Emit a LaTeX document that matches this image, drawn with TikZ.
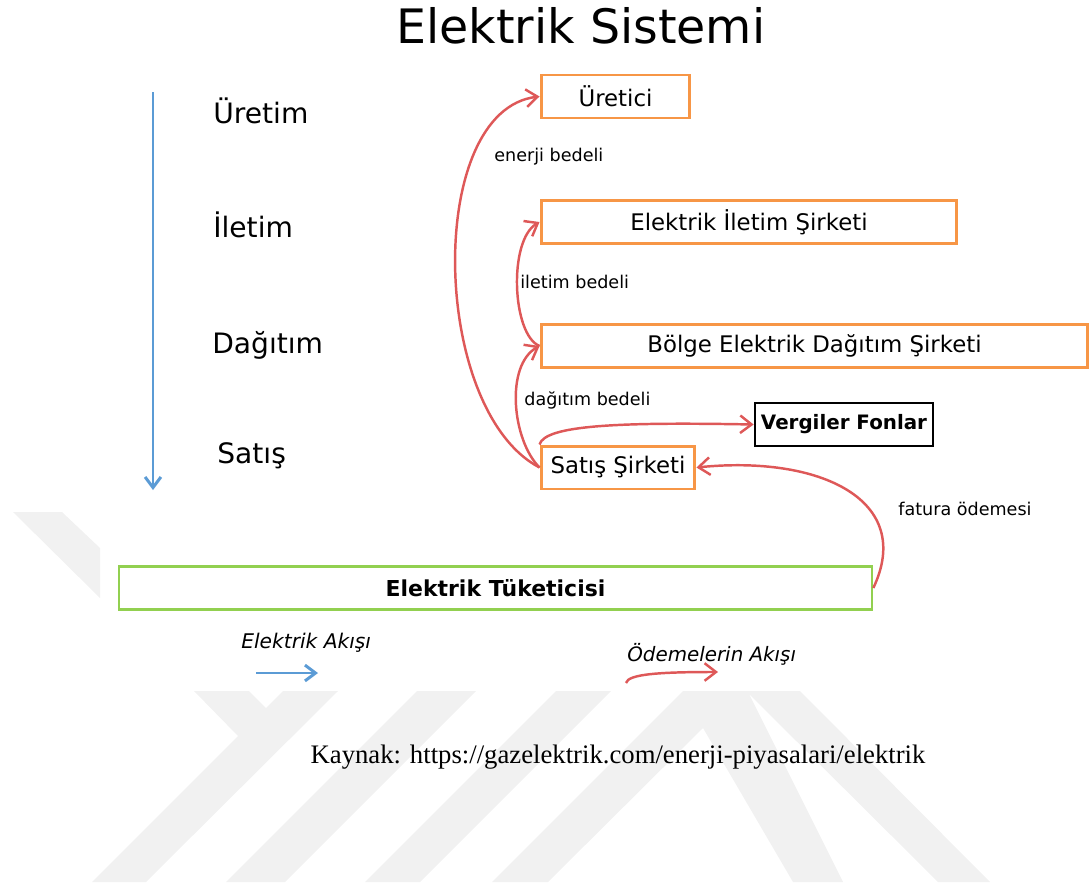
\documentclass[tikz,border=0pt]{standalone}
\usepackage{fontspec}
\setmainfont{DejaVu Sans}
\newfontfamily\kaynakfont{Liberation Serif}
\usetikzlibrary{arrows.meta}

\definecolor{kututuruncu}{RGB}{247,150,70}
\definecolor{kutuyesil}{RGB}{146,208,80}
\definecolor{akismavi}{RGB}{91,155,213}
\definecolor{odemekirmizi}{RGB}{222,88,88}
\definecolor{filigran}{RGB}{241,241,241}

\begin{document}
\begin{tikzpicture}[x = 0.02cm, y = -0.02cm,
  kutu/.style = {draw = kututuruncu, line width = 1.7pt, minimum height = 0.86cm, inner sep = 0pt, font = \fontsize{13}{15}\selectfont},
  odeme/.style = {draw = odemekirmizi, line width = 1.4pt, -{Straight Barb[length = 6.5pt, width = 10pt]}},
  akis/.style = {draw = akismavi, line width = 1.7pt, -{Straight Barb[length = 6pt, width = 9pt]}},
  etiket/.style = {anchor = west, inner sep = 0pt, font = \fontsize{10}{12}\selectfont},
  evre/.style = {anchor = base west, inner sep = 0pt, font = \fontsize{16}{19}\selectfont}]

\useasboundingbox (0,0) rectangle (1090,886);

\fill[filigran] (13,512) -- (62,512) -- (100,548) -- (100,598) -- cycle;
\fill[filigran] (194,691) -- (249,691) -- (266,708) -- (283,691) -- (338,691) -- (146,882) -- (92,882) -- (238,736) -- cycle;
\fill[filigran] (417,691) -- (476,691) -- (285,882) -- (226,882) -- cycle;
\fill[filigran] (556,691) -- (611,691) -- (420,882) -- (365,882) -- cycle;
\fill[filigran] (683,691) -- (800,691) -- (990,882) -- (938,882) -- (749,694) -- (843,882) -- (793,882) -- (703,728) -- (548,882) -- (492,882) -- cycle;

\node[anchor = base, inner sep = 0pt, font = \fontsize{27}{32}\selectfont] (baslik) at (581,43) {Elektrik Sistemi};

\coordinate (akisust) at (153,92);
\coordinate (akisalt) at (153,490);
\draw[akis] (akisust) -- (akisalt);

\node[evre] (uretim) at (213,123) {Üretim};
\node[evre] (iletimevre) at (213,237) {İletim};
\node[evre] (dagitim) at (212,353) {Dağıtım};
\node[evre] (satisevre) at (217,463) {Satış};

\node[kutu, minimum width = 2.98cm] (uretici) at (615.5,96.5) {Üretici};
\node[kutu, minimum width = 8.32cm] (iletim) at (749,222) {Elektrik İletim Şirketi};
\node[kutu, minimum width = 10.94cm] (bolge) at (814.5,346) {Bölge Elektrik Dağıtım Şirketi};
\node[kutu, minimum width = 3.08cm] (satis) at (618,467.5) {Satış Şirketi};
\node[draw = black, line width = 1.6pt, minimum width = 3.56cm, minimum height = 0.86cm, inner sep = 0pt, font = \bfseries\fontsize{11.3}{13}\selectfont] (vergi) at (844,424.5) {Vergiler Fonlar};
\node[draw = kutuyesil, line width = 1.6pt, minimum width = 15.06cm, minimum height = 0.86cm, inner sep = 0pt, font = \bfseries\fontsize{12.5}{15}\selectfont] (tuketici) at (495.5,588) {Elektrik Tüketicisi};

\draw[odeme] (satis.west) .. controls (430,410) and (425,110) .. (uretici.west);
\draw[odeme] (bolge.west) .. controls (512,335) and (508,240) .. (iletim.west);
\draw[odeme] (satis.west) .. controls (512,440) and (505,365) .. (bolge.west);
\draw[odeme] (satis.north west) .. controls (545,425) and (620,422) .. (vergi.west);
\draw[odeme] (tuketici.east) .. controls (915,500) and (820,455) .. (satis.east);

\node[etiket] (enerjib) at (494,157) {enerji bedeli};
\node[etiket] (iletimb) at (520,282) {iletim bedeli};
\node[etiket] (dagitimb) at (524,400) {dağıtım bedeli};
\node[etiket] (faturab) at (898,509) {fatura ödemesi};

\node[anchor = west, inner sep = 0pt, font = \itshape\fontsize{11.5}{14}\selectfont] (elakis) at (241,643) {Elektrik Akışı};
\coordinate (mavibas) at (256,673);
\coordinate (mavison) at (318,673);
\draw[akis] (mavibas) -- (mavison);

\node[anchor = west, inner sep = 0pt, font = \itshape\fontsize{11.3}{14}\selectfont] (odakis) at (627,654) {Ödemelerin Akışı};
\coordinate (kirmizibas) at (626,683);
\coordinate (kirmizison) at (718,672);
\draw[odeme] (kirmizibas) .. controls (628,674) and (660,672) .. (kirmizison);

\node[anchor = base, inner sep = 0pt, font = \kaynakfont\fontsize{15.2}{18}\selectfont] (kaynak) at (618,763) {Kaynak: https://gazelektrik.com/enerji-piyasalari/elektrik};

\end{tikzpicture}
\end{document}
